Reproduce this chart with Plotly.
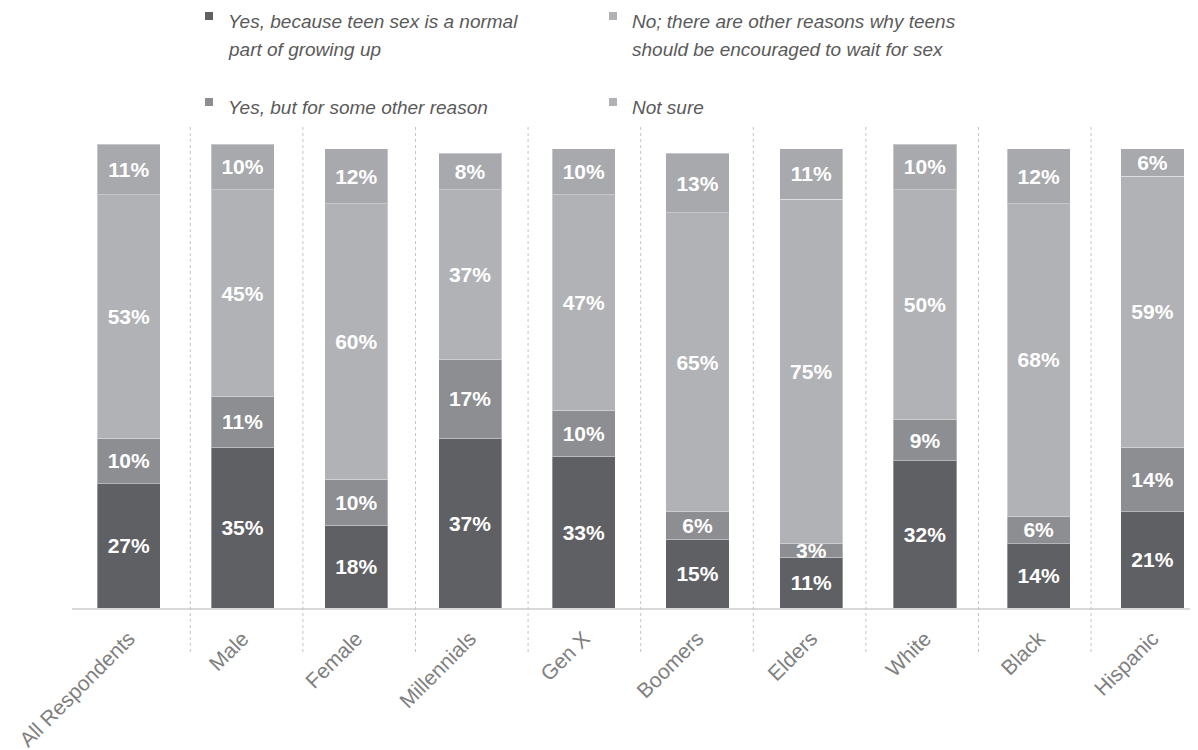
import plotly.graph_objects as go

categories = ["All Respondents", "Male", "Female", "Millennials", "Gen X",
              "Boomers", "Elders", "White", "Black", "Hispanic"]
yes_normal = [27, 35, 18, 37, 33, 15, 11, 32, 14, 21]
yes_other = [10, 11, 10, 17, 10, 6, 3, 9, 6, 14]
no_wait = [53, 45, 60, 37, 47, 65, 75, 50, 68, 59]
not_sure = [11, 10, 12, 8, 10, 13, 11, 10, 12, 6]

series = [
    ("Yes, because teen sex is a normal part of growing up", yes_normal, "#5f6064"),
    ("Yes, but for some other reason", yes_other, "#8d8e92"),
    ("No; there are other reasons why teens should be encouraged to wait for sex", no_wait, "#b1b2b6"),
    ("Not sure", not_sure, "#a8a9ad"),
]

# page has an 8px body margin: figure occupies page x 8..1198, y 8..750
W, H = 1190, 742
ML, MR, MT, MB = 64, 0, 136, 142
PW, PH = W - ML - MR, H - MT - MB
PLOT_LEFT_PAGE, PLOT_BOTTOM_PAGE = 72, 608


def px_x(p):
    return (p - PLOT_LEFT_PAGE) / PW


def px_y(p):
    return (PLOT_BOTTOM_PAGE - p) / PH


fig = go.Figure()
for name, vals, color in series:
    fig.add_trace(go.Bar(
        x=categories, y=vals, name=name,
        marker=dict(color=color, line=dict(color="rgba(255,255,255,0.35)", width=1)),
        width=0.555,
        text=[f"{v}%" for v in vals],
        textposition="inside", insidetextanchor="middle", textangle=0,
        textfont=dict(family="Arial", size=21, color="white", weight="bold"),
        showlegend=False,
        hoverinfo="skip",
    ))

shapes = []
# dotted separators between categories
for i in range(9):
    xs = 0.54 + i * 0.99
    shapes.append(dict(type="line", xref="x", yref="paper", x0=xs, x1=xs,
                       y0=px_y(652), y1=px_y(124),
                       line=dict(color="#c4c4c4", width=1, dash="dot")))

# manual legend
legend_items = [
    (205, 12, ["Yes, because teen sex is a normal", "part of growing up"], "#5f6064"),
    (609, 12, ["No; there are other reasons why teens", "should be encouraged to wait for sex"], "#b1b2b6"),
    (205, 98, ["Yes, but for some other reason"], "#8d8e92"),
    (609, 98, ["Not sure"], "#b1b2b6"),
]
annotations = []
for mx, my, lines, col in legend_items:
    shapes.append(dict(type="rect", xref="paper", yref="paper",
                       x0=px_x(mx), x1=px_x(mx + 8), y0=px_y(my + 8), y1=px_y(my),
                       fillcolor=col, line=dict(width=0)))
    for j, ln in enumerate(lines):
        annotations.append(dict(
            xref="paper", yref="paper", x=px_x(mx + 21), y=px_y(my + 10 + 28 * j),
            xanchor="left", yanchor="middle", showarrow=False, text=ln,
            font=dict(family="Arial", size=19, color="#5a5a5a", style="italic")))

fig.update_layout(
    width=W, height=H,
    margin=dict(l=ML, r=MR, t=MT, b=MB),
    barmode="stack",
    plot_bgcolor="white", paper_bgcolor="white",
    bargap=0.45,
    uniformtext=dict(minsize=21, mode="show"),
    xaxis=dict(range=[-0.5, 9.4], showgrid=False, zeroline=False,
               showline=True, linecolor="#d9d9d9", linewidth=2,
               tickangle=-45, ticks="", ticklabelstandoff=8,
               tickfont=dict(family="Arial", size=21, color="#808080")),
    yaxis=dict(range=[0, 101], visible=False, showgrid=False, zeroline=False),
    shapes=shapes,
    annotations=annotations,
)

fig.write_html("out.html")
